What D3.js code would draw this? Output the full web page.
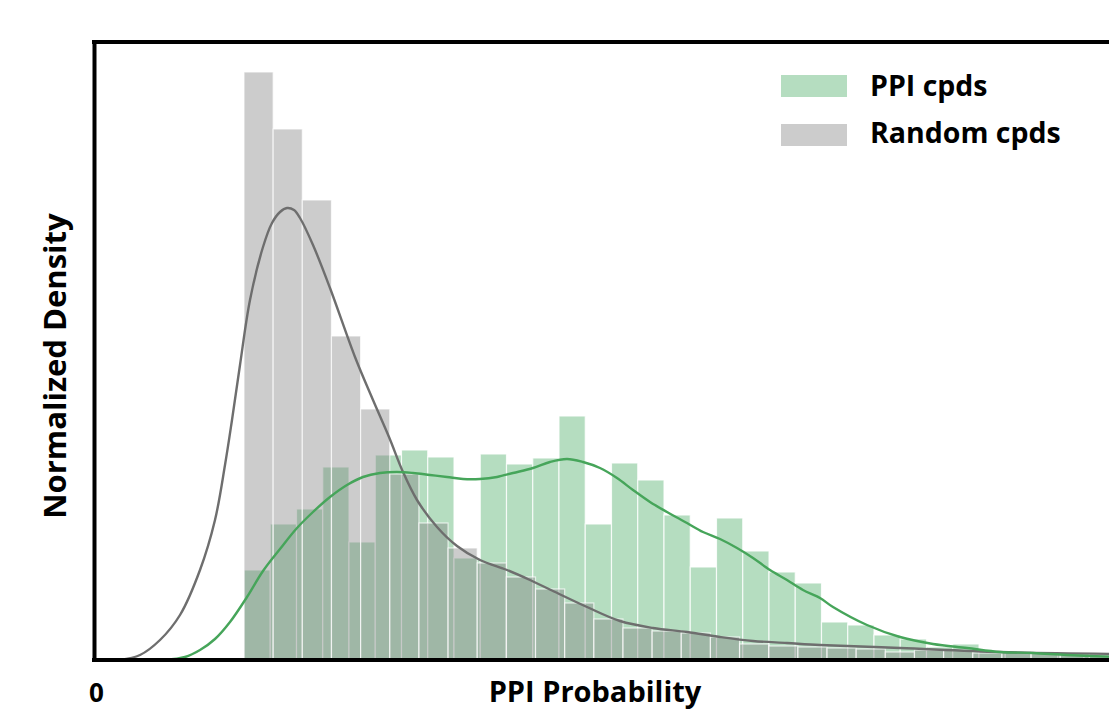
<!DOCTYPE html>
<html>
<head>
<script src="https://d3js.org/d3.v7.min.js"></script>
<style>
  body { margin: 0; background: #fff; font-family: "Open Sans", "DejaVu Sans", sans-serif; }
  .label { font-weight: 700; fill: #000; font-family: "Open Sans", "DejaVu Sans", sans-serif; }
  .frame .domain { stroke: #000; stroke-width: 4; }
</style>
</head>
<body>
<svg id="chart" width="1109" height="709"></svg>
<script>
// histogram bins (PPI probability), heights as normalized density
const grayBinStart = 0.15;
const grayBinWidth = 0.02915;
const randomDensity = [5.88, 5.31, 4.60, 3.24, 2.51, 1.86, 1.37, 1.12, 0.97, 0.83,
  0.71, 0.57, 0.41, 0.32, 0.29, 0.27, 0.23, 0.16, 0.14, 0.13,
  0.12, 0.11, 0.08, 0.10, 0.10, 0.07, 0.08, 0.075, 0.07, 0.065];

const greenBinStart = 0.15;
const greenBinWidth = 0.02625;
const ppiDensity = [0.90, 1.36, 1.51, 1.93, 1.18, 2.05, 2.10, 2.03, 1.02, 2.06,
  1.96, 2.02, 2.44, 1.36, 1.97, 1.80, 1.45, 0.93, 1.42, 1.09,
  0.88, 0.77, 0.38, 0.35, 0.25, 0.21, 0.13, 0.16, 0.09, 0.09,
  0.07, 0.06, 0.05];

// kde curves
const randomKdeX = [0.026, 0.046, 0.066, 0.086, 0.106, 0.121, 0.131, 0.138, 0.146, 0.156,
  0.169, 0.178, 0.186, 0.193, 0.200, 0.206, 0.219, 0.236, 0.261, 0.279,
  0.295, 0.309, 0.323, 0.343, 0.363, 0.386, 0.413, 0.436, 0.459, 0.493,
  0.526, 0.559, 0.593, 0.626, 0.659, 0.693, 0.726, 0.806, 0.906, 1.026];
const randomKdeY = [0, 0.05, 0.20, 0.45, 0.90, 1.40, 1.95, 2.40, 2.95, 3.60,
  4.13, 4.37, 4.48, 4.52, 4.50, 4.42, 4.15, 3.72, 3.03, 2.60,
  2.23, 1.88, 1.60, 1.33, 1.14, 1.00, 0.90, 0.80, 0.69, 0.53,
  0.39, 0.32, 0.28, 0.23, 0.19, 0.17, 0.15, 0.12, 0.08, 0.06];

const ppiKdeX = [0.071, 0.091, 0.106, 0.121, 0.136, 0.153, 0.169, 0.186, 0.203, 0.219,
  0.236, 0.253, 0.269, 0.286, 0.303, 0.319, 0.336, 0.353, 0.369, 0.386,
  0.403, 0.419, 0.439, 0.456, 0.473, 0.489, 0.506, 0.523, 0.539, 0.556,
  0.573, 0.593, 0.609, 0.626, 0.643, 0.659, 0.676, 0.693, 0.709, 0.726,
  0.739, 0.773, 0.806, 0.839, 0.873, 0.906, 0.939, 0.973, 1.026];
const ppiKdeY = [0, 0.03, 0.10, 0.21, 0.38, 0.63, 0.89, 1.11, 1.32, 1.48,
  1.63, 1.75, 1.83, 1.87, 1.88, 1.87, 1.85, 1.83, 1.81, 1.81,
  1.83, 1.87, 1.92, 1.98, 2.01, 1.98, 1.92, 1.82, 1.70, 1.58,
  1.48, 1.37, 1.28, 1.21, 1.12, 1.02, 0.90, 0.80, 0.70, 0.62,
  0.53, 0.35, 0.23, 0.16, 0.12, 0.08, 0.07, 0.05, 0.03];

const seriesNames = ["PPI cpds", "Random cpds"];
const xTicks = [0];

const svg = d3.select("#chart");
const x = d3.scaleLinear().domain([0, 1]).range([94, 1094]);
const y = d3.scaleLinear().domain([0, 6.18]).range([660, 42]);

const greenFill = "rgb(60,165,90)";
const grayFill = "rgb(128,128,128)";

// ppi histogram (below)
svg.append("g")
  .selectAll("rect")
  .data(ppiDensity)
  .join("rect")
  .attr("x", (d, i) => x(greenBinStart + i * greenBinWidth))
  .attr("y", d => y(d))
  .attr("width", x(greenBinWidth) - x(0))
  .attr("height", d => y(0) - y(d))
  .attr("fill", greenFill)
  .attr("fill-opacity", 0.38)
  .attr("stroke", "#fff")
  .attr("stroke-opacity", 0.8)
  .attr("stroke-width", 1.2);

// random histogram (on top)
svg.append("g")
  .selectAll("rect")
  .data(randomDensity)
  .join("rect")
  .attr("x", (d, i) => x(grayBinStart + i * grayBinWidth))
  .attr("y", d => y(d))
  .attr("width", x(grayBinWidth) - x(0))
  .attr("height", d => y(0) - y(d))
  .attr("fill", grayFill)
  .attr("fill-opacity", 0.4)
  .attr("stroke", "#fff")
  .attr("stroke-opacity", 0.7)
  .attr("stroke-width", 1.2);

const line = d3.line().x(d => x(d[0])).y(d => y(d[1])).curve(d3.curveCatmullRom.alpha(0.5));

svg.append("path")
  .datum(d3.zip(randomKdeX, randomKdeY))
  .attr("d", line)
  .attr("fill", "none")
  .attr("stroke", "rgb(110,110,110)")
  .attr("stroke-width", 2.4);

svg.append("path")
  .datum(d3.zip(ppiKdeX, ppiKdeY))
  .attr("d", line)
  .attr("fill", "none")
  .attr("stroke", "rgb(70,165,90)")
  .attr("stroke-width", 2.4);

// frame
const bottomAxis = d3.axisBottom(d3.scaleLinear().domain([0, 1]).range([94, 1200]))
  .tickValues(xTicks).tickSize(0).tickPadding(0).tickFormat(d3.format("d"));
const gx = svg.append("g").attr("class", "frame").attr("transform", "translate(0,660)").call(bottomAxis);
gx.select(".domain").attr("d", "M92,0H1200");
gx.selectAll(".tick text")
  .attr("class", "label")
  .attr("dy", 0).attr("y", 42).attr("x", 2)
  .style("font-size", "26px");

const leftAxis = d3.axisLeft(y).tickValues([]).tickSize(0);
svg.append("g").attr("class", "frame").attr("transform", "translate(94,0)").call(leftAxis);
svg.append("line")
  .attr("x1", 92).attr("x2", 1200).attr("y1", 42).attr("y2", 42)
  .attr("stroke", "#000").attr("stroke-width", 4);

// axis titles
svg.append("text")
  .attr("class", "label")
  .attr("transform", "translate(66,366) rotate(-90)")
  .attr("text-anchor", "middle")
  .style("font-size", "31px")
  .text("Normalized Density");

svg.append("text")
  .attr("class", "label")
  .attr("x", 595).attr("y", 702)
  .attr("text-anchor", "middle")
  .style("font-size", "29px")
  .text("PPI Probability");

// legend
const legend = svg.append("g").attr("transform", "translate(781,75)");
legend.selectAll("rect")
  .data(seriesNames)
  .join("rect")
  .attr("x", 0)
  .attr("y", (d, i) => i * 49)
  .attr("width", 66)
  .attr("height", 22)
  .attr("fill", (d, i) => i === 0 ? greenFill : grayFill)
  .attr("fill-opacity", (d, i) => i === 0 ? 0.38 : 0.4);
legend.selectAll("text")
  .data(seriesNames)
  .join("text")
  .attr("class", "label")
  .attr("x", 89)
  .attr("y", (d, i) => 21 + i * 47)
  .style("font-size", "28.5px")
  .text(d => d);
</script>
</body>
</html>
